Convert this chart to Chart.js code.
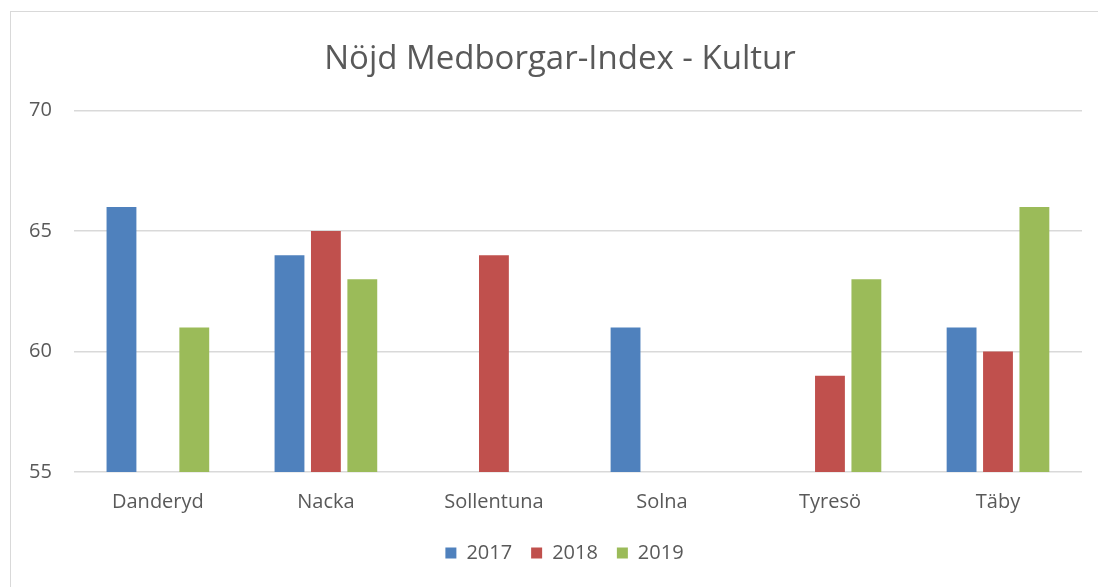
<!DOCTYPE html>
<html>
<head>
<meta charset="utf-8">
<script src="https://cdn.jsdelivr.net/npm/chart.js@4"></script>
<style>
  html, body { margin: 0; padding: 0; background: #fff; overflow: hidden; }
  body { width: 1098px; height: 587px; position: relative; }
  .frame { position: absolute; left: 10px; top: 11px; width: 1100px; height: 600px; border: 1px solid #d9d9d9; box-sizing: border-box; }
  .chart-box { position: absolute; left: 7px; top: 11px; width: 1103px; height: 576px; }
</style>
</head>
<body>
<div class="frame"></div>
<div class="chart-box"><canvas id="chart"></canvas></div>
<script>
// Nöjd Medborgar-Index - Kultur
const municipalities = ['Danderyd', 'Nacka', 'Sollentuna', 'Solna', 'Tyresö', 'Täby'];
const years = ['2017', '2018', '2019'];
const values2017 = [66, 64, null, 61, null, 61];
const values2018 = [null, 65, 64, null, 59, 60];
const values2019 = [61, 63, null, null, 63, 66];
const yTicks = [55, 60, 65, 70];

const textColor = '#595959';
const fontFamily = '"Open Sans", "Liberation Sans", sans-serif';

const series = [values2017, values2018, values2019];
const colors = ['#4F81BD', '#C0504D', '#9BBB59'];

// title and legend sit centred on the whole frame, not on the padded area
const centerBlocks = {
  id: 'centerBlocks',
  afterLayout(chart) {
    chart.titleBlock.left = 3;
    chart.titleBlock.right = chart.width;
    chart.legend.left += 20;
    chart.legend.right += 20;
  },
};

new Chart(document.getElementById('chart'), {
  type: 'bar',
  data: {
    labels: municipalities,
    datasets: years.map((y, i) => ({
      label: y,
      data: series[i],
      backgroundColor: colors[i],
      borderWidth: 0,
      barPercentage: 0.82,
      categoryPercentage: 0.65,
    })),
  },
  options: {
    responsive: true,
    maintainAspectRatio: false,
    animation: false,
    layout: { padding: { left: 0, right: 28, top: 0, bottom: 14 } },
    plugins: {
      title: {
        display: true,
        text: 'Nöjd Medborgar-Index - Kultur',
        color: textColor,
        font: { family: fontFamily, size: 33, weight: 'normal' },
        padding: { top: 29, bottom: 31 },
      },
      legend: {
        position: 'bottom',
        labels: {
          color: textColor,
          font: { family: fontFamily, size: 20 },
          boxWidth: 11,
          boxHeight: 11,
          padding: 19,
        },
      },
      tooltip: { enabled: false },
    },
    scales: {
      x: {
        grid: { display: false },
        border: { display: false },
        ticks: { color: textColor, font: { family: fontFamily, size: 20 }, padding: 10 },
      },
      y: {
        min: yTicks[0],
        max: yTicks[yTicks.length - 1],
        afterBuildTicks: axis => { axis.ticks = yTicks.map(v => ({ value: v })); },
        grid: { color: '#d9d9d9', lineWidth: 1.5, drawTicks: false },
        border: { display: false },
        ticks: { color: textColor, font: { family: fontFamily, size: 20 }, padding: 22 },
      },
    },
  },
  plugins: [centerBlocks],
});
</script>
</body>
</html>
